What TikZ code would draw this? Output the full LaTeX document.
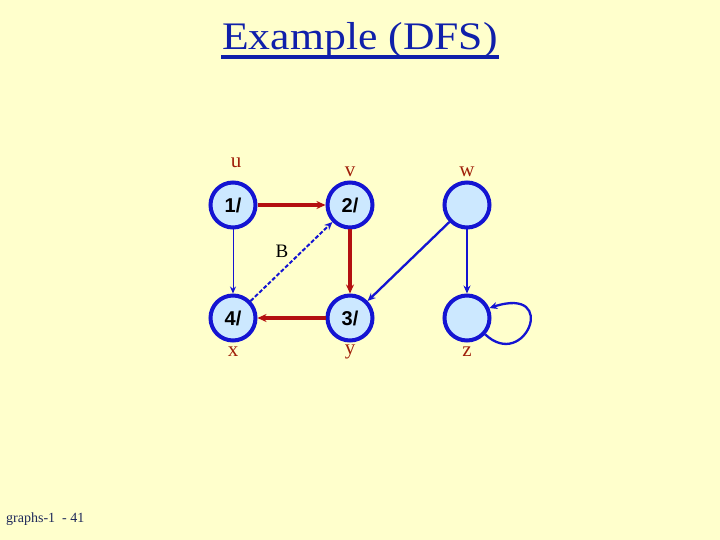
\documentclass[tikz,border=0pt]{standalone}
\usepackage{fontspec}
\setmainfont{Liberation Serif}
\newfontfamily\numfont{Liberation Sans}
\usetikzlibrary{arrows.meta}
\definecolor{bg}{RGB}{255,255,204}
\definecolor{nodefill}{RGB}{204,232,255}
\definecolor{nodeblue}{RGB}{20,20,210}
\definecolor{edgered}{RGB}{180,16,16}
\definecolor{lblred}{RGB}{160,32,10}
\definecolor{titleblue}{RGB}{16,32,170}
\definecolor{footblue}{RGB}{30,40,90}
\tikzset{
  vert/.style={circle,draw=nodeblue,fill=nodefill,line width=4pt,minimum size=45pt,inner sep=0pt,font=\numfont\bfseries\fontsize{20}{22}\selectfont},
  vlabel/.style={text=lblred,font=\fontsize{21}{22}\selectfont,inner sep=0pt},
  tree/.style={draw=edgered,line width=3.5pt,-{Stealth[length=9pt,width=8pt]}},
  blueedge/.style={draw=nodeblue,line width=2.3pt,-{Stealth[length=8pt,width=7pt]}},
  thinedge/.style={draw=nodeblue,line width=1pt,-{Stealth[length=7pt,width=6pt]}},
  backedge/.style={draw=nodeblue,line width=2pt,dash pattern=on 4pt off 2pt,-{Stealth[length=8pt,width=7pt]}}
}
\begin{document}
\begin{tikzpicture}[x=1pt,y=-1pt]
\fill[bg] (0,0) rectangle (720,540);
\useasboundingbox (0,0) rectangle (720,540);
\node[text=titleblue,font=\fontsize{39}{42}\selectfont,inner sep=0pt,anchor=base,xscale=1.12] (title) at (360,50) {Example (DFS)};
\draw[titleblue,line width=3.5pt] (221,57) -- (499,57);
\node[text=footblue,font=\fontsize{14}{16}\selectfont,anchor=west,inner sep=0pt] (foot) at (6,519) {graphs-1 \ - 41};

\node[vert] (u) at (233,205) {1/};
\node[vert] (v) at (350,205) {2/};
\node[vert] (w) at (467,205) {};
\node[vert] (x) at (233,318) {4/};
\node[vert] (y) at (350,318) {3/};
\node[vert] (z) at (467,318) {};

\node[vlabel] (lu) at (236,163) {u};
\node[vlabel] (lv) at (350,172) {v};
\node[vlabel] (lw) at (467,172) {w};
\node[vlabel] (lx) at (233,352) {x};
\node[vlabel] (ly) at (350,352) {y};
\node[vlabel] (lz) at (467,352) {z};

\draw[tree] (u) -- (v);
\draw[tree] (v) -- (y);
\draw[tree] (y) -- (x);
\draw[thinedge] (u) -- (x);
\draw[backedge] (x) -- (v);
\node[font=\fontsize{19}{20}\selectfont,inner sep=0pt] (B) at (282,251) {B};
\draw[blueedge] (w) -- (y);
\draw[blueedge] (w) -- (z);
\draw[blueedge] (z.-42) .. controls (525,372) and (560,285) .. (z.24);
\end{tikzpicture}
\end{document}
